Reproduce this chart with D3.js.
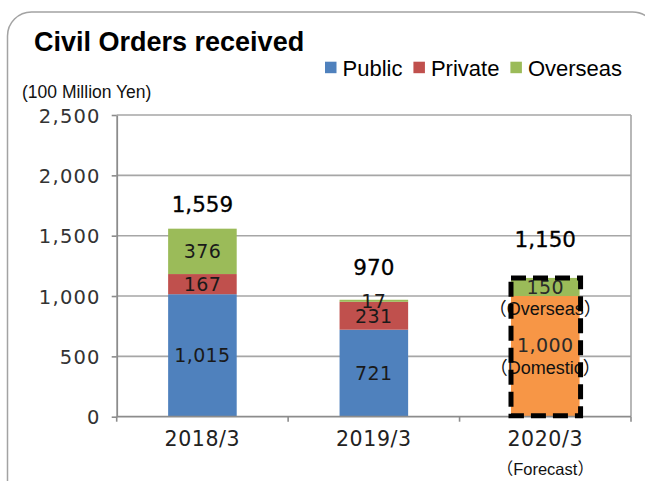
<!DOCTYPE html>
<html>
<head>
<meta charset="utf-8">
<script src="https://cdn.jsdelivr.net/npm/d3@7"></script>
<style>
    html, body { margin: 0; padding: 0; background: #fff; }
    svg { display: block; }
    .num { font-family: "DejaVu Sans", sans-serif; }
    .lat { font-family: "Liberation Sans", Arial, sans-serif; }
    .cjk { font-family: "Noto Sans CJK JP", sans-serif; }
</style>
</head>
<body>
<div id="chart-div"></div>
<script>
//---------------------------------//
// Data                            //
//---------------------------------//

const categories = ['2018/3', '2019/3', '2020/3'];
const publicValues = [1015, 721, 0];
const privateValues = [167, 231, 0];
const overseasValues = [376, 17, 150];
const domesticValues = [0, 0, 1000]; // forecast only, not split
const totals = [1559, 970, 1150];
const yTicks = [0, 500, 1000, 1500, 2000, 2500];
const legendNames = ['Public', 'Private', 'Overseas'];
const forecastNotes = { domestic: 'Domestic', overseas: 'Overseas' };
const forecastIndex = 2;

//---------------------------------//
// Chart Object                    //
//---------------------------------//

window.Chart = window.Chart || {};

Chart.init = function() {
    Chart.setup.initConsts();
    Chart.setup.initGraph();

    Chart.draw.frame();
    Chart.draw.grid();
    Chart.draw.bars();
    Chart.draw.axes();
    Chart.draw.labels();
    Chart.draw.forecast();
    Chart.draw.legend();
};

Chart.setup = {
    initConsts: function() {
        Chart.width = 645;
        Chart.height = 481;

        Chart.left = 116.7;
        Chart.right = 631;
        Chart.top = 115;
        Chart.bottom = 416.7;

        Chart.keys = ['domestic', 'public', 'private', 'overseas'];
        Chart.colors = {
            public: '#4F81BD',
            private: '#C0504D',
            overseas: '#9BBB59',
            domestic: '#F79646'
        };
        Chart.totalLift = [17, 25, 31]; // hand-placed total labels in the original
    },

    initGraph: function() {
        Chart.svg = d3.select('#chart-div')
                      .append('svg')
                        .attr('width', Chart.width)
                        .attr('height', Chart.height);

        Chart.x = d3.scaleBand()
                    .domain(categories)
                    .range([Chart.left, Chart.right])
                    .paddingInner(0.6)
                    .paddingOuter(0.3);
        Chart.y = d3.scaleLinear()
                    .domain([0, 2500])
                    .range([Chart.bottom, Chart.top]);

        Chart.table = categories.map(function(c, i) {
            return {
                category: c,
                public: publicValues[i],
                private: privateValues[i],
                overseas: overseasValues[i],
                domestic: domesticValues[i]
            };
        });
        Chart.stacked = d3.stack().keys(Chart.keys)(Chart.table);
    }
};

Chart.helpers = {
    // word wrapped in full-width brackets, brackets from the CJK font
    bracketed: function(sel, word) {
        sel.append('tspan').attr('class', 'cjk').text('（');
        sel.append('tspan').attr('class', 'lat').text(word);
        sel.append('tspan').attr('class', 'cjk').text('）');
        return sel;
    }
};

Chart.draw = {
    frame: function() {
        Chart.svg.append('rect')
            .attr('x', 7.5).attr('y', 12)
            .attr('width', 649).attr('height', 495)
            .attr('rx', 24).attr('ry', 24)
            .attr('fill', 'none')
            .attr('stroke', '#a3a3a3')
            .attr('stroke-width', 1.5);

        Chart.svg.append('text')
            .attr('class', 'lat')
            .attr('x', 34).attr('y', 51)
            .attr('font-size', 27)
            .attr('font-weight', 'bold')
            .attr('fill', '#000')
            .text('Civil Orders received');

        Chart.svg.append('text')
            .attr('class', 'lat')
            .attr('x', 22).attr('y', 97.5)
            .attr('font-size', 17.5)
            .attr('fill', '#111')
            .text('(100 Million Yen)');
    },

    grid: function() {
        Chart.svg.append('g')
            .selectAll('line')
            .data(yTicks.filter(function(d) { return d > 0; }))
            .join('line')
              .attr('x1', Chart.left).attr('x2', Chart.right)
              .attr('y1', function(d) { return Chart.y(d); })
              .attr('y2', function(d) { return Chart.y(d); })
              .attr('stroke', '#a6a6a6')
              .attr('stroke-width', 1.6);

        // right border of plot area
        Chart.svg.append('line')
            .attr('x1', Chart.right).attr('x2', Chart.right)
            .attr('y1', Chart.top).attr('y2', Chart.bottom)
            .attr('stroke', '#a6a6a6')
            .attr('stroke-width', 1.6);
    },

    bars: function() {
        Chart.svg.append('g')
            .selectAll('g')
            .data(Chart.stacked)
            .join('g')
              .attr('fill', function(s) { return Chart.colors[s.key]; })
            .selectAll('rect')
            .data(function(s) { return s.filter(function(d) { return d[1] > d[0]; }); })
            .join('rect')
              .attr('x', function(d) { return Chart.x(d.data.category); })
              .attr('width', Chart.x.bandwidth())
              .attr('y', function(d) { return Chart.y(d[1]); })
              .attr('height', function(d) { return Chart.y(d[0]) - Chart.y(d[1]); });
    },

    axes: function() {
        let yAxis = Chart.svg.append('g')
            .attr('transform', 'translate(' + Chart.left + ',0)')
            .call(d3.axisLeft(Chart.y)
                    .tickValues(yTicks)
                    .tickFormat(d3.format(','))
                    .tickSize(5)
                    .tickSizeOuter(0)
                    .tickPadding(11));
        yAxis.select('.domain').attr('stroke', '#8c8c8c').attr('stroke-width', 1.8);
        yAxis.selectAll('.tick line').attr('stroke', '#8c8c8c').attr('stroke-width', 1.6);
        yAxis.selectAll('.tick text')
            .attr('class', 'num')
            .attr('font-size', 19.5)
            .attr('letter-spacing', 1.2)
            .attr('fill', '#333')
            .attr('dy', '0.36em');

        // x axis: line plus ticks between the bands
        let step = Chart.x.step();
        let edges = d3.range(categories.length + 1).map(function(i) { return Chart.left + i*step; });
        let xAxis = Chart.svg.append('g');
        xAxis.append('line')
            .attr('x1', Chart.left).attr('x2', Chart.right)
            .attr('y1', Chart.bottom).attr('y2', Chart.bottom)
            .attr('stroke', '#8c8c8c').attr('stroke-width', 1.8);
        xAxis.selectAll('.xt')
            .data(edges)
            .join('line')
              .attr('class', 'xt')
              .attr('x1', function(d) { return d; }).attr('x2', function(d) { return d; })
              .attr('y1', Chart.bottom).attr('y2', Chart.bottom + 5)
              .attr('stroke', '#8c8c8c').attr('stroke-width', 1.6);
        xAxis.selectAll('.xl')
            .data(categories)
            .join('text')
              .attr('class', 'num xl')
              .attr('x', function(d) { return Chart.x(d) + Chart.x.bandwidth()/2; })
              .attr('y', 446)
              .attr('text-anchor', 'middle')
              .attr('font-size', 20.5)
              .attr('letter-spacing', 0.6)
              .attr('fill', '#222')
              .text(function(d) { return d; });
    },

    labels: function() {
        let fmt = d3.format(',');
        let half = Chart.x.bandwidth()/2;

        // segment values, except the forecast column which has notes
        let segs = [];
        Chart.stacked.forEach(function(s) {
            s.forEach(function(d, i) {
                if (d[1] > d[0] && i !== forecastIndex) {
                    segs.push({ i: i, v: d[1] - d[0], mid: (d[0] + d[1])/2 });
                }
            });
        });
        Chart.svg.append('g')
            .selectAll('text')
            .data(segs)
            .join('text')
              .attr('class', 'num')
              .attr('x', function(d) { return Chart.x(categories[d.i]) + half; })
              .attr('y', function(d) { return Chart.y(d.mid); })
              .attr('dy', '0.36em')
              .attr('text-anchor', 'middle')
              .attr('font-size', 19)
              .attr('letter-spacing', 0.4)
              .attr('fill', '#1a1a1a')
              .text(function(d) { return fmt(d.v); });

        // totals above the bars
        Chart.svg.append('g')
            .selectAll('text')
            .data(totals)
            .join('text')
              .attr('class', 'num')
              .attr('x', function(d, i) { return Chart.x(categories[i]) + half; })
              .attr('y', function(d, i) { return Chart.y(d) - Chart.totalLift[i]; })
              .attr('text-anchor', 'middle')
              .attr('font-size', 21.5)
              .attr('fill', '#000')
              .attr('stroke', '#000')
              .attr('stroke-width', 0.3)
              .text(function(d) { return fmt(d); });
    },

    forecast: function() {
        let fmt = d3.format(',');
        let cat = categories[forecastIndex];
        let cx = Chart.x(cat) + Chart.x.bandwidth()/2;

        let g = Chart.svg.append('g');
        ['domestic', 'overseas'].forEach(function(key) {
            let d = Chart.stacked[Chart.keys.indexOf(key)][forecastIndex];
            let mid = Chart.y((d[0] + d[1])/2);
            let shift = key === 'overseas' ? 11 : 0; // thin segment, note hangs below
            g.append('text')
                .attr('class', 'num')
                .attr('x', cx).attr('y', mid - 11 + shift)
                .attr('dy', '0.36em')
                .attr('text-anchor', 'middle')
                .attr('font-size', 19)
                .attr('letter-spacing', 0.4)
                .attr('fill', '#2a2a2a')
                .text(fmt(d[1] - d[0]));
            let note = g.append('text')
                .attr('x', cx).attr('y', mid + 11 + shift)
                .attr('dy', '0.36em')
                .attr('text-anchor', 'middle')
                .attr('font-size', 18)
                .attr('fill', '#111');
            Chart.helpers.bracketed(note, forecastNotes[key]);
        });

        // dashed outline round the forecast bar
        g.append('rect')
            .attr('x', Chart.x(cat))
            .attr('y', Chart.y(totals[forecastIndex]))
            .attr('width', Chart.x.bandwidth() + 1)
            .attr('height', Chart.y(0) - Chart.y(totals[forecastIndex]) - 1)
            .attr('fill', 'none')
            .attr('stroke', '#000')
            .attr('stroke-width', 5)
            .attr('stroke-dasharray', '15,7');

        let fc = g.append('text')
            .attr('x', cx).attr('y', 475)
            .attr('text-anchor', 'middle')
            .attr('font-size', 16.5)
            .attr('fill', '#111');
        Chart.helpers.bracketed(fc, 'Forecast');
    },

    legend: function() {
        let keys = ['public', 'private', 'overseas'];
        let g = Chart.svg.append('g');
        let xpos = 325;
        keys.forEach(function(k, i) {
            g.append('rect')
                .attr('x', xpos).attr('y', 61.7)
                .attr('width', 11.5).attr('height', 11.5)
                .attr('fill', Chart.colors[k]);
            let t = g.append('text')
                .attr('class', 'lat')
                .attr('x', xpos + 17.5).attr('y', 75.5)
                .attr('font-size', 22)
                .attr('fill', '#000')
                .text(legendNames[i]);
            xpos += 17.5 + t.node().getComputedTextLength() + 11;
        });
    }
};

document.addEventListener('DOMContentLoaded', Chart.init);
</script>
</body>
</html>
